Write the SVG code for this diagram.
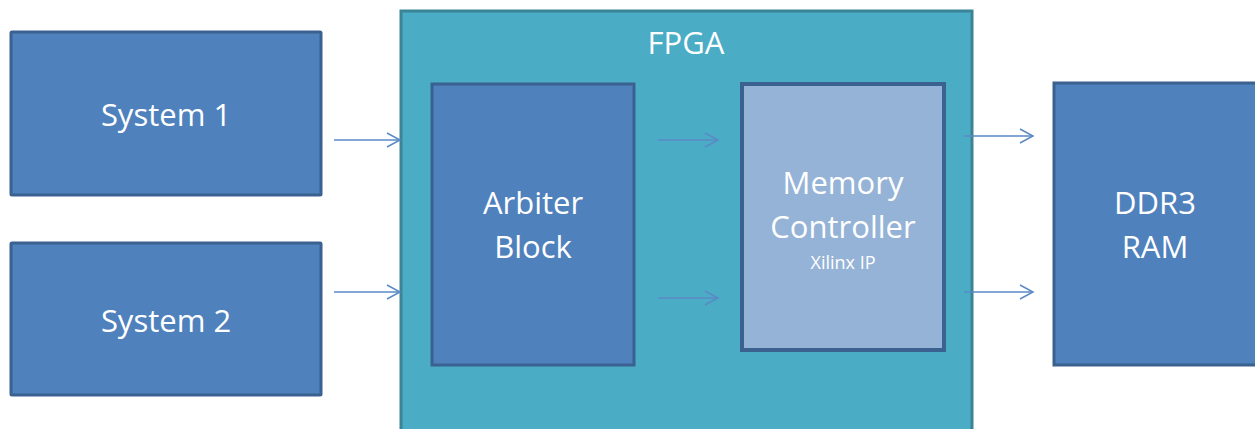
<svg xmlns="http://www.w3.org/2000/svg" width="1255" height="429" viewBox="0 0 1255 429">
<defs>
<style>
.blk{fill:#4F81BD;stroke:#3A6190;stroke-width:3}
.mc{fill:#95B3D7;stroke:#3A6190;stroke-width:4}
.fpga{fill:#4BACC6;stroke:#3A8496;stroke-width:3}
text{font-family:"Open Sans","Noto Sans","Liberation Sans",sans-serif;fill:#FFFFFF;text-anchor:middle}
.big{font-size:31px}
.small{font-size:18px}
.arr{stroke:#5A8AC6;stroke-width:1.5;fill:none;marker-end:url(#ah)}
</style>
<marker id="ah" markerWidth="16" markerHeight="16" refX="14" refY="8" orient="auto" markerUnits="userSpaceOnUse">
<path d="M1,1 L14,8 L1,15" fill="none" stroke="#5A8AC6" stroke-width="1.5"/>
</marker>
</defs>
<g id="system1"><rect class="blk" x="11" y="32" width="310" height="163" rx="1"/><text class="big" x="166" y="126">System 1</text></g>
<g id="system2"><rect class="blk" x="11" y="243" width="310" height="152" rx="1"/><text class="big" x="166" y="332">System 2</text></g>
<g id="fpga"><rect class="fpga" x="401" y="11" width="571" height="425"/><text class="big" x="686" y="54">FPGA</text></g>
<g id="arbiter"><rect class="blk" x="432" y="84" width="202" height="281"/><text class="big" x="533" y="214">Arbiter</text><text class="big" x="533" y="258">Block</text></g>
<g id="memctrl"><rect class="mc" x="742" y="84" width="202" height="266"/><text class="big" x="843" y="194">Memory</text><text class="big" x="843" y="238">Controller</text><text class="small" x="843" y="269">Xilinx IP</text></g>
<g id="ddr3"><rect class="blk" x="1054" y="83" width="204" height="282"/><text class="big" x="1155" y="214">DDR3</text><text class="big" x="1155" y="258">RAM</text></g>
<g id="connectors">
<line class="arr" x1="334" y1="140" x2="400" y2="140"/>
<line class="arr" x1="334" y1="292" x2="400" y2="292"/>
<line class="arr" x1="658" y1="140" x2="718" y2="140"/>
<line class="arr" x1="658" y1="298" x2="718" y2="298"/>
<line class="arr" x1="964" y1="136" x2="1033" y2="136"/>
<line class="arr" x1="964" y1="292" x2="1033" y2="292"/>
</g>
</svg>
